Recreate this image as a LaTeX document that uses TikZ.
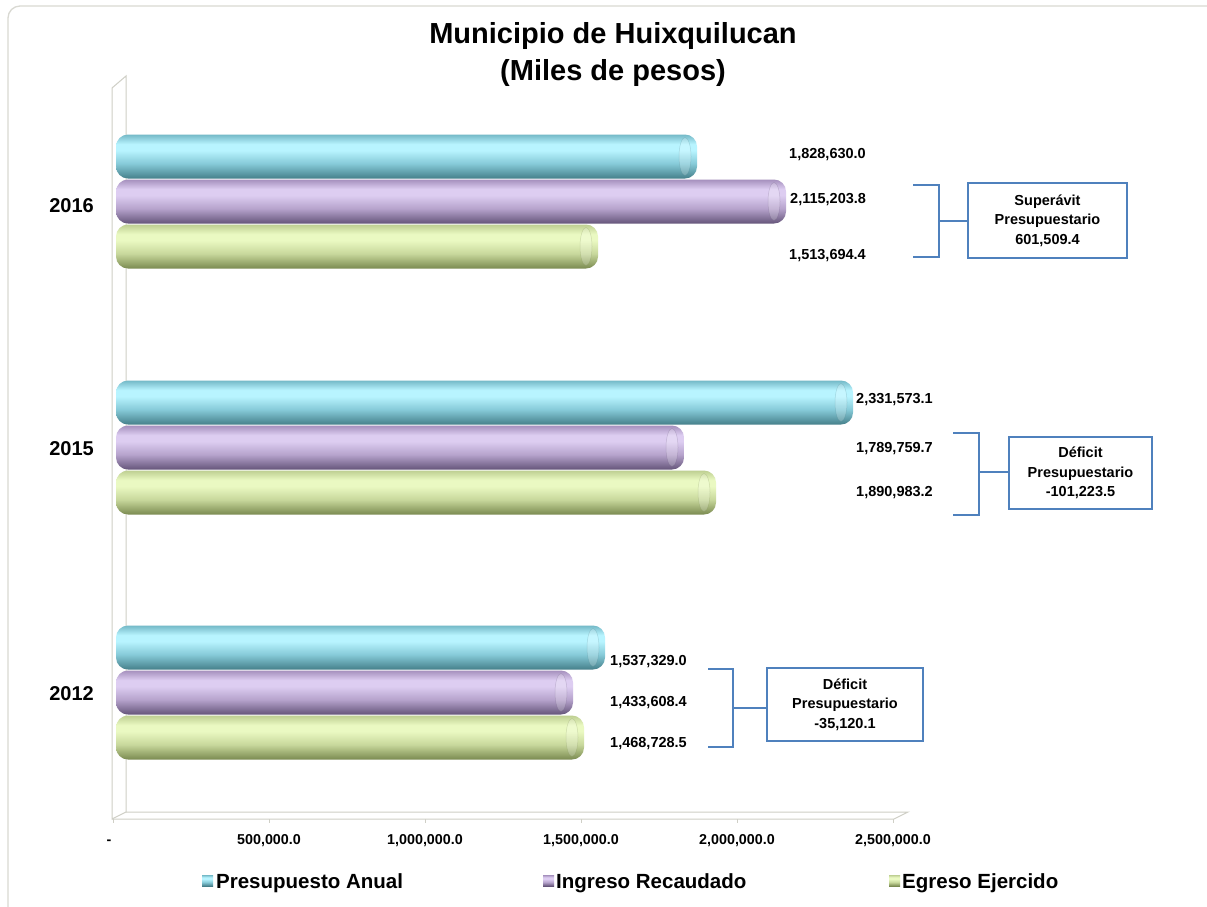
\documentclass[tikz,border=0pt]{standalone}
\usepackage{fontspec}
\setmainfont{Liberation Sans}
\usetikzlibrary{calc}
\definecolor{framec}{HTML}{D9D9D2}
\definecolor{wallc}{HTML}{CFCFC6}
\definecolor{brkc}{HTML}{4F81BD}
\definecolor{cyD}{HTML}{457F8A}
\definecolor{cyM}{HTML}{86CAD8}
\definecolor{cyH}{HTML}{B8F4FF}
\definecolor{cyT}{HTML}{74B9C7}
\definecolor{puD}{HTML}{65557A}
\definecolor{puM}{HTML}{B6A3CC}
\definecolor{puH}{HTML}{DDCDF1}
\definecolor{puT}{HTML}{A590BD}
\definecolor{grD}{HTML}{7A8A50}
\definecolor{grM}{HTML}{C8D89C}
\definecolor{grH}{HTML}{EAF9C2}
\definecolor{grT}{HTML}{BECF92}
\pgfdeclareverticalshading{cyanbar}{100bp}{color(0bp)=(cyD); color(25bp)=(cyD); color(42bp)=(cyM); color(57bp)=(cyH); color(64bp)=(cyH); color(75bp)=(cyT); color(100bp)=(cyT)}
\pgfdeclareverticalshading{purplebar}{100bp}{color(0bp)=(puD); color(25bp)=(puD); color(42bp)=(puM); color(57bp)=(puH); color(64bp)=(puH); color(75bp)=(puT); color(100bp)=(puT)}
\pgfdeclareverticalshading{greenbar}{100bp}{color(0bp)=(grD); color(25bp)=(grD); color(42bp)=(grM); color(57bp)=(grH); color(64bp)=(grH); color(75bp)=(grT); color(100bp)=(grT)}
\newcommand\cylbar[4]{% #1 y centre, #2 x end, #3 shading, #4 dark colour
  \path[shading=#3, rounded corners=12pt] (116,#1-22) rectangle (#2,#1+22);
  \fill[white, opacity=0.2] (#2-12,#1) ellipse [x radius=6, y radius=19];
  \draw[#4, line width=0.5pt, opacity=0.25] (#2-12,#1) ellipse [x radius=6, y radius=19];
}
\tikzset{
  valtxt/.style={font=\fontsize{14.5}{16}\selectfont\bfseries, inner sep=0pt, anchor=base west},
  axtxt/.style={font=\fontsize{14.3}{16}\selectfont\bfseries, inner sep=0pt, anchor=base},
  yrtxt/.style={font=\fontsize{20}{24}\selectfont\bfseries, inner sep=0pt, anchor=base east},
  legtxt/.style={font=\fontsize{20.5}{24}\selectfont\bfseries, inner sep=0pt, anchor=base west},
  ttltxt/.style={font=\fontsize{29}{32}\selectfont\bfseries, inner sep=0pt, anchor=base},
  sbox/.style={draw=brkc, line width=1.3pt, fill=white, align=center, inner sep=0pt,
    font=\fontsize{14.5}{19.5}\selectfont\bfseries},
  brk/.style={draw=brkc, line width=2.2pt},
  wall/.style={draw=wallc, line width=1pt}
}
\begin{document}
\begin{tikzpicture}[x=1pt,y=-1pt]
\useasboundingbox (0,0) rectangle (1207,906);
\clip (0,0) rectangle (1207,906);
\fill[white] (0,0) rectangle (1207,906);
\draw[framec, line width=1.3pt, rounded corners=12pt] (8,6) rectangle (1222,922);
% title
\node[ttltxt] (t1) at (613,43) {Municipio de Huixquilucan};
\node[ttltxt] (t2) at (613,80) {(Miles de pesos)};
% wall and floor
\draw[wall] (112,88) -- (126,76) -- (126,812) -- (112,819) -- cycle;
\draw[wall] (112,819) -- (894,819) -- (908,812) -- (126,812);
\foreach \k in {0,...,5} \draw[wall] (113+156*\k,819) -- ++(0,4);
% bars 2016
\cylbar{156.5}{697}{cyanbar}{cyD}
\cylbar{201.5}{786}{purplebar}{puD}
\cylbar{246.5}{598}{greenbar}{grD}
% bars 2015
\cylbar{402.5}{853}{cyanbar}{cyD}
\cylbar{447.5}{684}{purplebar}{puD}
\cylbar{492.5}{716}{greenbar}{grD}
% bars 2012
\cylbar{647.5}{605}{cyanbar}{cyD}
\cylbar{692.5}{573}{purplebar}{puD}
\cylbar{737.5}{584}{greenbar}{grD}
% year labels
\node[yrtxt] (y16) at (94,212) {2016};
\node[yrtxt] (y15) at (94,455) {2015};
\node[yrtxt] (y12) at (94,700) {2012};
% value labels
\node[valtxt] (v16a) at (789,158) {1,828,630.0};
\node[valtxt] (v16b) at (790,203) {2,115,203.8};
\node[valtxt] (v16c) at (789,259) {1,513,694.4};
\node[valtxt] (v15a) at (856,403) {2,331,573.1};
\node[valtxt] (v15b) at (856,452) {1,789,759.7};
\node[valtxt] (v15c) at (856,496) {1,890,983.2};
\node[valtxt] (v12a) at (610,665) {1,537,329.0};
\node[valtxt] (v12b) at (610,706) {1,433,608.4};
\node[valtxt] (v12c) at (610,747) {1,468,728.5};
% axis labels
\node[axtxt] (a0) at (109,844) {-};
\node[axtxt] (a1) at (269,844) {500,000.0};
\node[axtxt] (a2) at (425,844) {1,000,000.0};
\node[axtxt] (a3) at (581,844) {1,500,000.0};
\node[axtxt] (a4) at (737,844) {2,000,000.0};
\node[axtxt] (a5) at (893,844) {2,500,000.0};
% boxes
\node[sbox, minimum width=159pt, minimum height=75pt] (b16) at (1047.5,220.5) {Superávit\\Presupuestario\\601,509.4};
\node[sbox, minimum width=143pt, minimum height=72pt] (b15) at (1080.5,473) {Déficit\\Presupuestario\\-101,223.5};
\node[sbox, minimum width=156pt, minimum height=73pt] (b12) at (845,704.5) {Déficit\\Presupuestario\\-35,120.1};
% brackets
\coordinate (k16) at (939,221);
\coordinate (k15) at (979,472);
\coordinate (k12) at (733,708);
\draw[brk] (913,185) -- (939,185) -- (939,257) -- (913,257);
\draw[brk] (k16) -- (k16 -| b16.west);
\draw[brk] (953,433) -- (979,433) -- (979,515) -- (953,515);
\draw[brk] (k15) -- (k15 -| b15.west);
\draw[brk] (708,669) -- (733,669) -- (733,747) -- (708,747);
\draw[brk] (k12) -- (k12 -| b12.west);
% legend
\path[shading=cyanbar] (202,875) rectangle (213,886);
\node[legtxt] (l1) at (216,888) {Presupuesto Anual};
\path[shading=purplebar] (543,875) rectangle (554,886);
\node[legtxt] (l2) at (556,888) {Ingreso Recaudado};
\path[shading=greenbar] (889,875) rectangle (900,886);
\node[legtxt] (l3) at (902,888) {Egreso Ejercido};
\end{tikzpicture}
\end{document}
